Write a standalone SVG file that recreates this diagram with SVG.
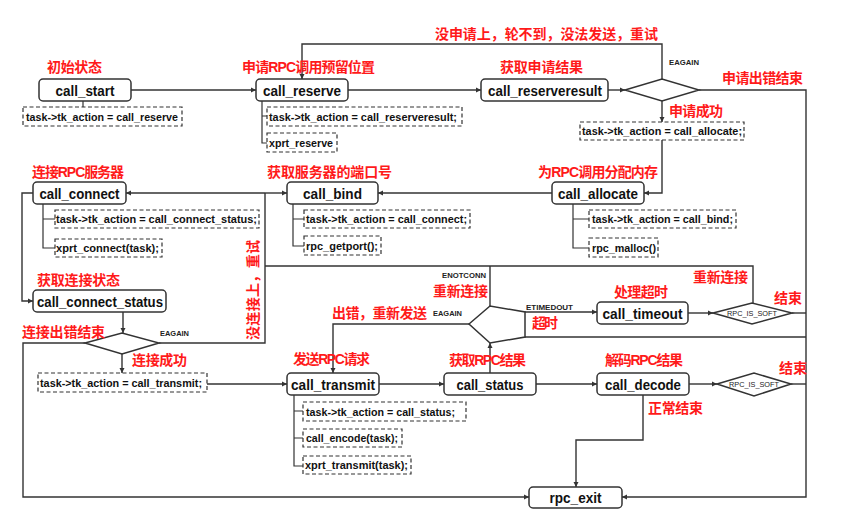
<svg xmlns="http://www.w3.org/2000/svg" width="842" height="528" viewBox="0 0 842 528">
<defs>
<marker id="ah" markerWidth="6" markerHeight="6" refX="5" refY="3" orient="auto" markerUnits="userSpaceOnUse">
<path d="M0,0.5 L5,3 L0,5.5 z" fill="#333"/>
</marker>
<style>
.node{fill:#fff;stroke:#333;stroke-width:1.5}
.nt{font-family:"Liberation Sans",Arial,sans-serif;font-weight:bold;font-size:14.5px;fill:#111;text-anchor:middle}
.db{fill:#fff;stroke:#333;stroke-width:1.2;stroke-dasharray:4 2.5}
.dt{font-family:"Liberation Sans",Arial,sans-serif;font-weight:bold;font-size:11px;fill:#111}
.lbl{font-family:"Liberation Sans","Noto Sans CJK SC",sans-serif;font-weight:bold;font-size:14px;fill:#ff1a1a}
.sm{font-family:"Liberation Sans",Arial,sans-serif;font-weight:bold;font-size:8px;fill:#222}
.rs{font-family:"Liberation Sans",Arial,sans-serif;font-size:8px;fill:#222;text-anchor:middle}
.dia{fill:#fff;stroke:#333;stroke-width:1.5}
.ln{fill:none;stroke:#333;stroke-width:1.4}
.tr{fill:none;stroke:#333;stroke-width:1.2}
</style>
</defs>
<rect width="842" height="528" fill="#fff"/>

<g id="connectors">
<path class="ln" d="M131,90 H256" marker-end="url(#ah)"/>
<path class="ln" d="M348,90 H481" marker-end="url(#ah)"/>
<path class="ln" d="M608,90 H625" marker-end="url(#ah)"/>
<path class="ln" d="M662,79 V44 H302 V79" marker-end="url(#ah)"/>
<path class="ln" d="M699,90 H806 V497 H622" marker-end="url(#ah)"/>
<path class="ln" d="M662,101 V122" marker-end="url(#ah)"/>
<path class="ln" d="M662,140 V193 H644" marker-end="url(#ah)"/>
<path class="ln" d="M552,193 H378" marker-end="url(#ah)"/>
<path class="ln" d="M265,193 H287" marker-end="url(#ah)"/>
<path class="ln" d="M265,193 H126" marker-end="url(#ah)"/>
<path class="ln" d="M265,193 V343 H159"/>
<path class="ln" d="M265,266 H753 V303"/>
<path class="ln" d="M490,266 V306"/>
<path class="ln" d="M33,193 H22 V301 H33" marker-end="url(#ah)"/>
<path class="ln" d="M123,312 V333" marker-end="url(#ah)"/>
<path class="ln" d="M85,343 H23 V497 H529" marker-end="url(#ah)"/>
<path class="ln" d="M122,354 V373" marker-end="url(#ah)"/>
<path class="ln" d="M207,384 H287" marker-end="url(#ah)"/>
<path class="ln" d="M379,384 H444" marker-end="url(#ah)"/>
<path class="ln" d="M490,373 V343" marker-end="url(#ah)"/>
<path class="ln" d="M469,324 H333 V373" marker-end="url(#ah)"/>
<path class="ln" d="M525,312 H597" marker-end="url(#ah)"/>
<path class="ln" d="M525,337 H806"/>
<path class="ln" d="M688,313 H713" marker-end="url(#ah)"/>
<path class="ln" d="M792,313 H806"/>
<path class="ln" d="M536,384 H597" marker-end="url(#ah)"/>
<path class="ln" d="M689,384 H717" marker-end="url(#ah)"/>
<path class="ln" d="M791,384 H806"/>
<path class="ln" d="M643,395 V440 H576 V487" marker-end="url(#ah)"/>
<!-- tree lines -->
<path class="tr" d="M83,101 V107"/>
<path class="tr" d="M262,101 V143 H267 M262,116 H267"/>
<path class="tr" d="M573,204 V248 H589 M573,219 H589"/>
<path class="tr" d="M293,204 V246 H304 M293,219 H304"/>
<path class="tr" d="M43,203 V248 H55 M43,219 H55"/>
<path class="tr" d="M294,395 V466 H303 M294,411 H303 M294,438 H303"/>
</g>

<g id="call_start">
<text class="lbl" x="47" y="72" textLength="55">初始状态</text>
<rect class="node" x="39" y="79" width="92" height="22" rx="4"/>
<text class="nt" x="85" y="95.5" textLength="59" lengthAdjust="spacingAndGlyphs">call_start</text>
<rect class="db" x="23" y="107" width="159" height="19"/>
<text class="dt" x="26" y="120.5" textLength="152" lengthAdjust="spacingAndGlyphs">task-&gt;tk_action = call_reserve</text>
</g>

<g id="call_reserve">
<text class="lbl" x="242" y="72" textLength="133">申请RPC调用预留位置</text>
<rect class="node" x="256" y="79" width="92" height="22" rx="4"/>
<text class="nt" x="302" y="95.5" textLength="78" lengthAdjust="spacingAndGlyphs">call_reserve</text>
<rect class="db" x="267" y="107" width="195" height="19"/>
<text class="dt" x="269" y="120.5" textLength="188" lengthAdjust="spacingAndGlyphs">task-&gt;tk_action  = call_reserveresult;</text>
<rect class="db" x="267" y="133" width="70" height="19"/>
<text class="dt" x="269" y="146.5" textLength="64" lengthAdjust="spacingAndGlyphs">xprt_reserve</text>
</g>

<g id="call_reserveresult">
<text class="lbl" x="500" y="72" textLength="83">获取申请结果</text>
<rect class="node" x="481" y="79" width="127" height="22" rx="4"/>
<text class="nt" x="545" y="95.5" textLength="114" lengthAdjust="spacingAndGlyphs">call_reserveresult</text>
</g>

<g id="reserve_check">
<polygon class="dia" points="625,90 662,79 699,90 662,101"/>
<text class="sm" x="669" y="65" textLength="30" lengthAdjust="spacingAndGlyphs">EAGAIN</text>
<text class="lbl" x="435" y="39" textLength="223">没申请上，轮不到，没法发送，重试</text>
<text class="lbl" x="722" y="83" textLength="81">申请出错结束</text>
<text class="lbl" x="669" y="116" textLength="54">申请成功</text>
<rect class="db" x="580" y="122" width="164" height="18"/>
<text class="dt" x="582" y="135" textLength="160" lengthAdjust="spacingAndGlyphs">task-&gt;tk_action = call_allocate;</text>
</g>

<g id="call_allocate">
<text class="lbl" x="538" y="177" textLength="120">为RPC调用分配内存</text>
<rect class="node" x="552" y="182" width="92" height="22" rx="4"/>
<text class="nt" x="598" y="198.5" textLength="80" lengthAdjust="spacingAndGlyphs">call_allocate</text>
<rect class="db" x="589" y="210" width="147" height="18"/>
<text class="dt" x="592" y="223" textLength="141" lengthAdjust="spacingAndGlyphs">task-&gt;tk_action = call_bind;</text>
<rect class="db" x="589" y="238" width="69" height="19"/>
<text class="dt" x="592" y="251.5" textLength="64" lengthAdjust="spacingAndGlyphs">rpc_malloc()</text>
</g>

<g id="call_bind">
<text class="lbl" x="267" y="177" textLength="125">获取服务器的端口号</text>
<rect class="node" x="287" y="182" width="91" height="22" rx="4"/>
<text class="nt" x="332.5" y="198.5" textLength="59" lengthAdjust="spacingAndGlyphs">call_bind</text>
<rect class="db" x="304" y="210" width="166" height="18"/>
<text class="dt" x="306" y="223" textLength="161" lengthAdjust="spacingAndGlyphs">task-&gt;tk_action = call_connect;</text>
<rect class="db" x="304" y="236" width="77" height="19"/>
<text class="dt" x="306" y="249.5" textLength="72" lengthAdjust="spacingAndGlyphs">rpc_getport();</text>
</g>

<g id="call_connect">
<text class="lbl" x="32" y="177" textLength="92">连接RPC服务器</text>
<rect class="node" x="33" y="182" width="93" height="22" rx="4"/>
<text class="nt" x="79.5" y="198.5" textLength="80" lengthAdjust="spacingAndGlyphs">call_connect</text>
<rect class="db" x="55" y="210" width="204" height="18"/>
<text class="dt" x="56" y="223" textLength="201" lengthAdjust="spacingAndGlyphs">task-&gt;tk_action = call_connect_status;</text>
<rect class="db" x="55" y="239" width="107" height="18"/>
<text class="dt" x="56" y="252" textLength="103" lengthAdjust="spacingAndGlyphs">xprt_connect(task);</text>
<text class="lbl" transform="translate(258,340) rotate(-90)" x="0" y="0" textLength="100">没连接上，重试</text>
</g>

<g id="call_connect_status">
<text class="lbl" x="37" y="285" textLength="83">获取连接状态</text>
<rect class="node" x="33" y="290" width="133" height="22" rx="4"/>
<text class="nt" x="100" y="306.5" textLength="126" lengthAdjust="spacingAndGlyphs">call_connect_status</text>
</g>

<g id="connect_check">
<polygon class="dia" points="85,343 122,333 159,343 122,354"/>
<text class="sm" x="160" y="336" textLength="29" lengthAdjust="spacingAndGlyphs">EAGAIN</text>
<text class="lbl" x="22" y="337" textLength="83">连接出错结束</text>
<text class="lbl" x="132" y="365" textLength="55">连接成功</text>
<rect class="db" x="38" y="373" width="169" height="19"/>
<text class="dt" x="40" y="386.5" textLength="162" lengthAdjust="spacingAndGlyphs">task-&gt;tk_action = call_transmit;</text>
</g>

<g id="call_transmit">
<text class="lbl" x="293" y="364" textLength="77">发送RPC请求</text>
<rect class="node" x="287" y="373" width="92" height="22" rx="4"/>
<text class="nt" x="333" y="389.5" textLength="84" lengthAdjust="spacingAndGlyphs">call_transmit</text>
<rect class="db" x="303" y="402" width="163" height="19"/>
<text class="dt" x="306" y="415.5" textLength="149" lengthAdjust="spacingAndGlyphs">task-&gt;tk_action = call_status;</text>
<rect class="db" x="303" y="429" width="99" height="18"/>
<text class="dt" x="306" y="442" textLength="92" lengthAdjust="spacingAndGlyphs">call_encode(task);</text>
<rect class="db" x="303" y="456" width="108" height="18"/>
<text class="dt" x="305" y="469" textLength="103" lengthAdjust="spacingAndGlyphs">xprt_transmit(task);</text>
</g>

<g id="status_check">
<polygon class="dia" points="469,324 490,306 525,312 525,337 490,343"/>
<text class="sm" x="442" y="278" textLength="44" lengthAdjust="spacingAndGlyphs">ENOTCONN</text>
<text class="lbl" x="433" y="296" textLength="55">重新连接</text>
<text class="lbl" x="332" y="318" textLength="95">出错，重新发送</text>
<text class="sm" x="433" y="316" textLength="29" lengthAdjust="spacingAndGlyphs">EAGAIN</text>
<text class="sm" x="526" y="310" textLength="47" lengthAdjust="spacingAndGlyphs">ETIMEDOUT</text>
<text class="lbl" x="532" y="328" textLength="26">超时</text>
</g>

<g id="call_status">
<text class="lbl" x="449" y="365" textLength="77">获取RPC结果</text>
<rect class="node" x="444" y="373" width="92" height="22" rx="4"/>
<text class="nt" x="490" y="389.5" textLength="67" lengthAdjust="spacingAndGlyphs">call_status</text>
</g>

<g id="call_timeout">
<text class="lbl" x="614" y="297" textLength="54">处理超时</text>
<rect class="node" x="597" y="302" width="91" height="22" rx="4"/>
<text class="nt" x="642.5" y="318.5" textLength="80" lengthAdjust="spacingAndGlyphs">call_timeout</text>
</g>

<g id="timeout_soft_check">
<polygon class="dia" points="713,313 752,303 792,313 752,324"/>
<text class="rs" x="752" y="316" textLength="50" lengthAdjust="spacingAndGlyphs">RPC_IS_SOFT</text>
<text class="lbl" x="693" y="282" textLength="55">重新连接</text>
<text class="lbl" x="774" y="303" textLength="28">结束</text>
</g>

<g id="call_decode">
<text class="lbl" x="605" y="365" textLength="78">解码RPC结果</text>
<rect class="node" x="597" y="373" width="92" height="22" rx="4"/>
<text class="nt" x="643" y="389.5" textLength="76" lengthAdjust="spacingAndGlyphs">call_decode</text>
<text class="lbl" x="648" y="413" textLength="55">正常结束</text>
</g>

<g id="decode_soft_check">
<polygon class="dia" points="717,384 754,373 791,384 754,396"/>
<text class="rs" x="754" y="387" textLength="50" lengthAdjust="spacingAndGlyphs">RPC_IS_SOFT</text>
<text class="lbl" x="779" y="373" textLength="28">结束</text>
</g>

<g id="rpc_exit">
<rect class="node" x="529" y="487" width="93" height="21" rx="4"/>
<text class="nt" x="575.5" y="503" textLength="52" lengthAdjust="spacingAndGlyphs">rpc_exit</text>
</g>
</svg>
